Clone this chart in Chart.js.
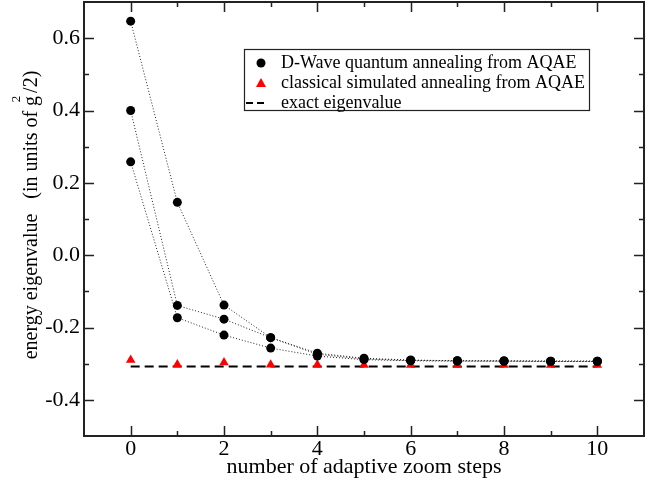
<!DOCTYPE html>
<html>
<head>
<meta charset="utf-8">
<script src="https://cdn.jsdelivr.net/npm/chart.js@4.4.1/dist/chart.umd.min.js"></script>
<style>
  html, body { margin: 0; padding: 0; background: #fff; }
  canvas { display: block; }
</style>
</head>
<body>
<canvas id="c" width="657" height="487"></canvas>
<script>
// Adaptive zoom steps on the x axis
const steps = [0, 1, 2, 3, 4, 5, 6, 7, 8, 9, 10];

// Three D-Wave runs (quantum annealing inside AQAE)
const dwaveRunA = [0.647, 0.146, -0.138, -0.228, -0.271, -0.285, -0.290, -0.292, -0.292, -0.293, -0.293];
const dwaveRunB = [0.400, -0.139, -0.177, -0.228, -0.274, -0.287, -0.291, -0.292, -0.293, -0.293, -0.293];
const dwaveRunC = [0.258, -0.173, -0.221, -0.257, -0.279, -0.289, -0.292, -0.293, -0.293, -0.294, -0.294];

// Classical simulated annealing inside AQAE
const classicalSA = [-0.290, -0.302, -0.297, -0.303, -0.303, -0.304, -0.304, -0.304, -0.304, -0.304, -0.304];

// Exact eigenvalue, drawn across the step range
const exactEigenvalue = -0.308;
const exactSpan = [0, 10];

const legendLabels = [
  'D-Wave quantum annealing from AQAE',
  'classical simulated annealing from AQAE',
  'exact eigenvalue'
];
const xTitle = 'number of adaptive zoom steps';
const yTitleMain = 'energy eigenvalue   (in units of g';
const yTitleSup = '2';
const yTitleTail = '/2)';

const SERIF = '"Liberation Serif", "Times New Roman", serif';

const toPoints = (xs, ys) => xs.map((x, i) => ({ x, y: ys[i] }));

const runStyle = {
  showLine: true,
  borderColor: '#222',
  borderWidth: 1,
  borderDash: [1, 2],
  pointRadius: 4.5,
  pointHoverRadius: 4.5,
  pointStyle: 'circle',
  pointBackgroundColor: '#000',
  pointBorderColor: '#000',
  pointBorderWidth: 0,
  tension: 0
};

// Frame, inward ticks, axis titles and the boxed legend
const framePlugin = {
  id: 'frame',
  afterDraw(chart) {
    const { ctx, chartArea: a, scales: { x, y } } = chart;
    ctx.save();
    ctx.strokeStyle = '#222';
    ctx.lineWidth = 1.5;
    // x ticks: major on even steps, minor on odd
    for (let v = x.min + 1; v < x.max; v += 1) {
      const px = Math.round(x.getPixelForValue(v)) + 0.5;
      const len = (Math.round(v) % 2 === 0) ? 10 : 5;
      ctx.beginPath();
      ctx.moveTo(px, a.bottom); ctx.lineTo(px, a.bottom - len);
      ctx.moveTo(px, a.top); ctx.lineTo(px, a.top + len);
      ctx.stroke();
    }
    // y ticks: major every 0.2, minor every 0.1
    for (let k = Math.round(y.min * 10) + 1; k < Math.round(y.max * 10); k++) {
      const py = Math.round(y.getPixelForValue(k / 10)) + 0.5;
      const len = (k % 2 === 0) ? 10 : 5;
      ctx.beginPath();
      ctx.moveTo(a.left, py); ctx.lineTo(a.left + len, py);
      ctx.moveTo(a.right, py); ctx.lineTo(a.right - len, py);
      ctx.stroke();
    }
    ctx.lineWidth = 2;
    ctx.strokeRect(a.left, a.top, a.right - a.left, a.bottom - a.top);

    // x title
    ctx.fillStyle = '#000';
    ctx.font = '22px ' + SERIF;
    ctx.textAlign = 'center';
    ctx.textBaseline = 'alphabetic';
    ctx.fillText(xTitle, (a.left + a.right) / 2, 473);

    // y title (rotated, with superscript)
    ctx.save();
    ctx.font = '20px ' + SERIF;
    const wMain = ctx.measureText(yTitleMain).width;
    const wTail = ctx.measureText(yTitleTail).width;
    const wG = ctx.measureText('g').width;
    const total = wMain + 3 + wTail;
    ctx.translate(37, 215);
    ctx.rotate(-Math.PI / 2);
    ctx.textAlign = 'left';
    ctx.fillText(yTitleMain, -total / 2, 0);
    ctx.fillText(yTitleTail, -total / 2 + wMain + 3, 0);
    ctx.font = '13px ' + SERIF;
    ctx.textAlign = 'center';
    ctx.fillText(yTitleSup, -total / 2 + wMain - wG / 2 + 2, -17);
    ctx.restore();

    // legend box
    const bx = 244, by = 49, bw = 345, bh = 61;
    ctx.lineWidth = 1.2;
    ctx.strokeStyle = '#222';
    ctx.strokeRect(bx + 0.5, by + 0.5, bw, bh);
    ctx.font = '18px ' + SERIF;
    ctx.textAlign = 'left';
    ctx.textBaseline = 'alphabetic';
    const rows = [63, 83, 103];
    rows.forEach((ry, i) => {
      ctx.fillText(legendLabels[i], 281, ry + 5);
    });
    // legend markers
    ctx.fillStyle = '#000';
    ctx.beginPath(); ctx.arc(261, rows[0], 4.5, 0, Math.PI * 2); ctx.fill();
    ctx.fillStyle = '#ff0000';
    ctx.beginPath();
    ctx.moveTo(261, rows[1] - 5); ctx.lineTo(266, rows[1] + 4); ctx.lineTo(256, rows[1] + 4);
    ctx.closePath(); ctx.fill();
    ctx.strokeStyle = '#000';
    ctx.lineWidth = 2;
    ctx.setLineDash([7, 4]);
    ctx.beginPath(); ctx.moveTo(246, rows[2]); ctx.lineTo(264, rows[2]); ctx.stroke();
    ctx.setLineDash([]);
    ctx.restore();
  }
};

const noEdgePadding = s => {
  s.paddingTop = 0; s.paddingBottom = 0; s.paddingLeft = 0; s.paddingRight = 0;
};

new Chart(document.getElementById('c'), {
  type: 'scatter',
  data: {
    datasets: [
      { label: legendLabels[0], data: toPoints(steps, dwaveRunA), ...runStyle },
      { label: legendLabels[0], data: toPoints(steps, dwaveRunB), ...runStyle },
      { label: legendLabels[0], data: toPoints(steps, dwaveRunC), ...runStyle },
      {
        label: legendLabels[1],
        data: toPoints(steps, classicalSA),
        pointStyle: 'triangle',
        pointRadius: 5.5,
        pointHoverRadius: 5.5,
        pointBackgroundColor: '#ff0000',
        pointBorderColor: '#ff0000',
        pointBorderWidth: 0,
        showLine: false
      },
      {
        label: legendLabels[2],
        data: exactSpan.map(x => ({ x, y: exactEigenvalue })),
        showLine: true,
        borderColor: '#000',
        borderWidth: 2,
        borderDash: [9, 5],
        pointRadius: 0,
        pointHoverRadius: 0
      }
    ]
  },
  options: {
    responsive: false,
    devicePixelRatio: 1,
    animation: false,
    events: [],
    layout: { autoPadding: false, padding: { left: 0, top: 2, right: 13, bottom: 0 } },
    plugins: { legend: { display: false }, tooltip: { enabled: false } },
    scales: {
      x: {
        type: 'linear',
        min: -1, max: 11,
        grid: { display: false, drawTicks: false },
        border: { display: false },
        ticks: {
          stepSize: 1,
          autoSkip: false,
          maxRotation: 0,
          padding: 0,
          color: '#000',
          font: { family: SERIF, size: 22 },
          callback: v => (Math.round(v) % 2 === 0 && v >= 0 && v <= 10) ? String(Math.round(v)) : ''
        },
        afterFit: s => { s.height = 51; noEdgePadding(s); }
      },
      y: {
        type: 'linear',
        min: -0.5, max: 0.7,
        grid: { display: false, drawTicks: false },
        border: { display: false },
        ticks: {
          stepSize: 0.1,
          autoSkip: false,
          padding: 4,
          color: '#000',
          font: { family: SERIF, size: 22 },
          callback: v => {
            const k = Math.round(v * 10);
            if (k % 2 !== 0 || k <= -5 || k >= 7) return '';
            return (Math.round(v * 10) / 10).toFixed(1);
          }
        },
        afterFit: s => { s.width = 84; noEdgePadding(s); }
      }
    }
  },
  plugins: [framePlugin]
});
</script>
</body>
</html>
